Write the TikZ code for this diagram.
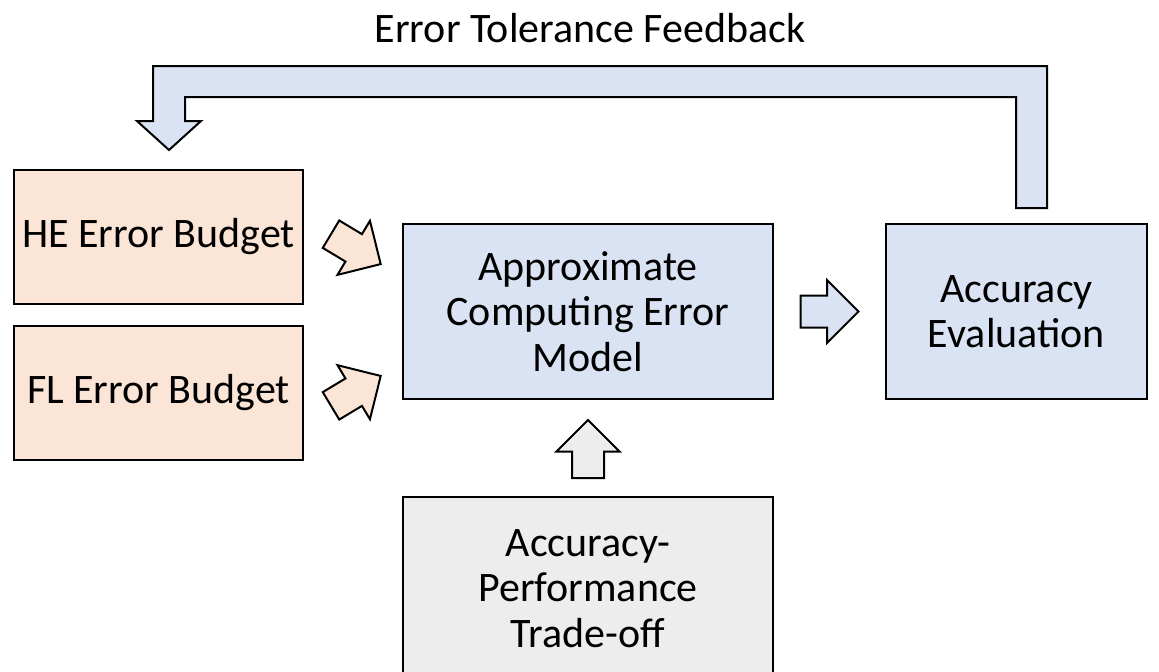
\documentclass[tikz,border=0pt]{standalone}
\usepackage{fontspec}
\setmainfont{Carlito}
\usetikzlibrary{positioning,shapes.arrows,calc}
\definecolor{budgetfill}{HTML}{FBE5D6}
\definecolor{modelfill}{HTML}{DAE3F3}
\definecolor{tradefill}{HTML}{EDEDED}

\begin{document}
\begin{tikzpicture}[x=0.5pt, y=-0.5pt,
            font=\fontsize{21}{22.75}\selectfont,
            box/.style={draw, line width=1pt, align=center, inner sep=0pt},
            budget/.style={box, fill=budgetfill, minimum width=144.5pt, minimum height=67pt},
            model/.style={box, fill=modelfill, minimum height=87.5pt},
            blockarrow/.style={draw, line width=1pt, single arrow, inner xsep=0pt, inner ysep=7.5pt,
                single arrow head extend=7.75pt, minimum height=29pt}]
        \useasboundingbox (0,0) rectangle (1159,671);
        \clip (0,0) rectangle (1159,671);

        \node[budget] (he) at (158.5,237) {HE Error Budget};
        \node[budget, below=10pt of he] (fl) {FL Error Budget};
        \node[model, minimum width=185pt] (acm) at (588,311.5) {Approximate\\Computing Error\\Model};
        \node[model, minimum width=130.5pt, right=55.5pt of acm] (acc) {Accuracy\\Evaluation};
        \node[box, fill=tradefill, minimum width=185pt, minimum height=91.5pt, below=48pt of acm] (trade)
            {Accuracy-\\Performance\\Trade-off};

        \node[blockarrow, fill=budgetfill, rotate=-31] (hearr) at (349,245) {};
        \node[blockarrow, fill=budgetfill, rotate=31] (flarr) at (349,395) {};
        \node[blockarrow, fill=modelfill] (rarr) at ($(acm.east)!0.5!(acc.west)+(-8,0)$) {};
        \node[blockarrow, fill=tradefill, rotate=90] (uarr) at ($(trade.north)!0.5!(acm.south)+(0,9)$) {};

        % feedback loop
        \draw[line width=1pt, fill=modelfill] (1016,208) -- (1016,97) -- (185,97) -- (185,121) -- (201,121)
            -- (169,150) -- (137,121) -- (153,121) -- (153,66) -- (1047,66) -- (1047,208) -- cycle;
        \node (fbtext) at (590,28) {Error Tolerance Feedback};
    \end{tikzpicture}
\end{document}
